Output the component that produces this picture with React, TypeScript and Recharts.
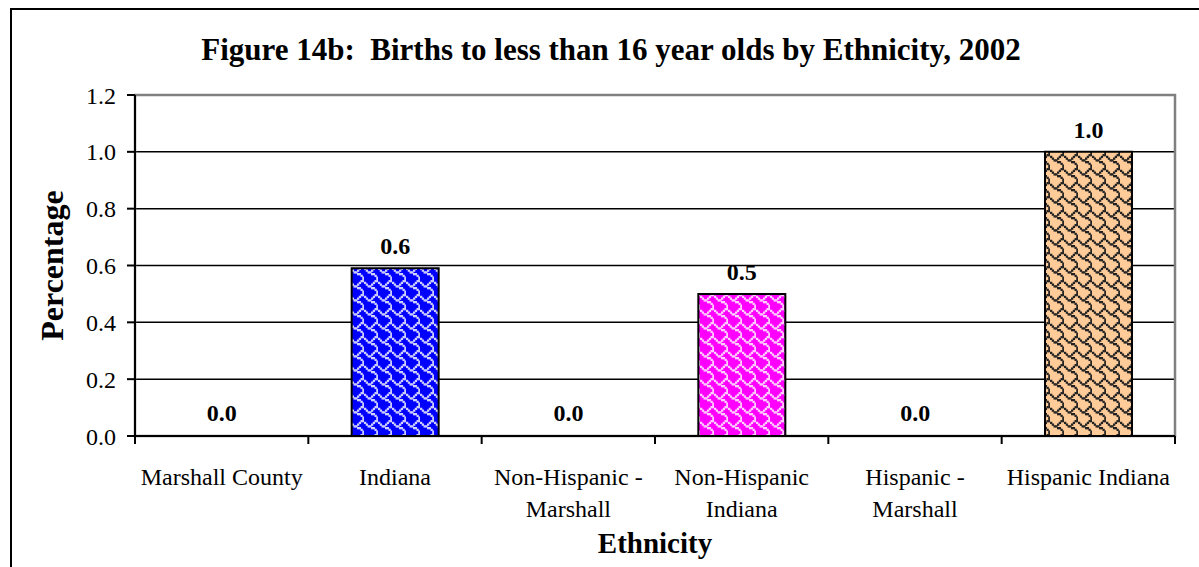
import { BarChart, Bar, XAxis, YAxis, CartesianGrid, Cell, LabelList, ReferenceArea } from "recharts";

const categories = [
  "Marshall County",
  "Indiana",
  "Non-Hispanic - Marshall",
  "Non-Hispanic Indiana",
  "Hispanic - Marshall",
  "Hispanic Indiana",
];
const tickLines = [
  ["Marshall County"],
  ["Indiana"],
  ["Non-Hispanic -", "Marshall"],
  ["Non-Hispanic", "Indiana"],
  ["Hispanic -", "Marshall"],
  ["Hispanic Indiana"],
];
const percentages = [0, 0.59, 0, 0.5, 0, 1.0];
const yTicks = [0, 0.2, 0.4, 0.6, 0.8, 1.0, 1.2];

const W = 1199;
const H = 567;
const M = { top: 95, right: 24, bottom: 0, left: 0 };
const Y_W = 135;
const X_H = 131;
const FONT = "'Liberation Serif', 'Times New Roman', serif";

// excel "shingle" fill, 8x8 bitmap
const shingle = ["00000011", "10000100", "01001000", "00110000", "00001100", "00000010", "00000001", "00000001"];
const fills = [
  { id: "p0", bg: "#ffffff", fg: "#ffffff" },
  { id: "p1", bg: "#0000ff", fg: "#d0d0ff" },
  { id: "p2", bg: "#ffffff", fg: "#ffffff" },
  { id: "p3", bg: "#ff00ff", fg: "#ffd0ff" },
  { id: "p4", bg: "#ffffff", fg: "#ffffff" },
  { id: "p5", bg: "#ffcc99", fg: "#222222" },
];
const PX = 1.75;
const DOT = 2.3;

const data = categories.map((c, i) => ({ name: c, value: percentages[i] }));

function Patterns() {
  return (
    <svg width={0} height={0} style={{ position: "absolute" }}>
      <defs>
        {fills.map((f) => (
          <pattern key={f.id} id={f.id} patternUnits="userSpaceOnUse" width={8 * PX} height={8 * PX}>
            <rect width={8 * PX} height={8 * PX} fill={f.bg} />
            {shingle.flatMap((row, r) =>
              row.split("").map((b, c) =>
                b === "1" ? <rect key={`${r}-${c}`} x={c * PX} y={r * PX} width={DOT} height={DOT} fill={f.fg} /> : null
              )
            )}
          </pattern>
        ))}
      </defs>
    </svg>
  );
}

function XTick(props: any) {
  const { x, y, index } = props;
  const band = (W - M.left - M.right - Y_W) / categories.length;
  const left = x - band / 2;
  const lines = tickLines[index] ?? [];
  return (
    <g>
      <line x1={left} x2={left} y1={y} y2={y + 8} stroke="#000" strokeWidth={2} />
      {index === categories.length - 1 && (
        <line x1={x + band / 2} x2={x + band / 2} y1={y} y2={y + 8} stroke="#000" strokeWidth={2} />
      )}
      {lines.map((l, i) => (
        <text key={i} x={x} y={y + 49 + i * 32} textAnchor="middle" fontSize={24} fontFamily={FONT} fill="#000">
          {l}
        </text>
      ))}
    </g>
  );
}

export default function App() {
  return (
    <div style={{ position: "fixed", left: 0, top: 0, width: W, height: H, overflow: "hidden", background: "#fff" }}>
      <Patterns />
      <div
        style={{
          position: "absolute", left: 10, top: 8, width: 1400, height: 800,
          border: "2.5px solid #000", boxSizing: "border-box",
        }}
      />
      <div
        style={{
          position: "absolute", left: 0, top: 35, width: 1222, textAlign: "center",
          fontFamily: FONT, fontWeight: "bold", fontSize: 31, lineHeight: "30px", whiteSpace: "pre",
        }}
      >
        {"Figure 14b:  Births to less than 16 year olds by Ethnicity, 2002"}
      </div>
      <div style={{ position: "absolute", left: 0, top: 0 }}>
        <BarChart width={W} height={H} data={data} margin={M} barCategoryGap="25%">
          <CartesianGrid vertical={false} stroke="#000" strokeWidth={1.5} />
          <ReferenceArea y1={0} y2={1.2} fill="none" stroke="#808080" strokeWidth={2.5} />
          <XAxis
            dataKey="name"
            height={X_H}
            interval={0}
            tickLine={false}
            tickSize={0}
            tickMargin={0}
            axisLine={{ stroke: "#000", strokeWidth: 2 }}
            tick={<XTick />}
            label={{
              content: (p: any) => {
                const vb = p.viewBox;
                return (
                  <text x={vb.x + vb.width / 2} y={vb.y + 117} textAnchor="middle" fontSize={29} fontWeight="bold" fontFamily={FONT} fill="#000">
                    Ethnicity
                  </text>
                );
              },
            }}
          />
          <YAxis
            width={Y_W}
            domain={[0, 1.2]}
            ticks={yTicks}
            tickFormatter={(v: number) => v.toFixed(1)}
            tickSize={8}
            tickMargin={11}
            tickLine={{ stroke: "#000", strokeWidth: 2 }}
            axisLine={{ stroke: "#000", strokeWidth: 2 }}
            tick={{ fontSize: 24, fontFamily: FONT, fill: "#000" }}
            label={{
              content: (p: any) => {
                const vb = p.viewBox;
                const cx = vb.x + 63;
                const cy = vb.y + vb.height / 2;
                return (
                  <text x={cx} y={cy} transform={`rotate(-90, ${cx}, ${cy})`} textAnchor="middle" fontSize={32} fontWeight="bold" fontFamily={FONT} fill="#000">
                    Percentage
                  </text>
                );
              },
            }}
          />
          <Bar dataKey="value" minPointSize={1} isAnimationActive={false}>
            {data.map((d, i) => {
              const empty = d.value === 0;
              return (
                <Cell
                  key={d.name}
                  fill={empty ? "none" : `url(#${fills[i].id})`}
                  stroke={empty ? "none" : "#000"}
                  strokeWidth={2}
                />
              );
            })}
            <LabelList
              dataKey="value"
              position="top"
              offset={14}
              formatter={(v: any) => Number(v).toFixed(1)}
              style={{ fontSize: 24, fontWeight: "bold", fontFamily: FONT, fill: "#000" }}
            />
          </Bar>
        </BarChart>
      </div>
    </div>
  );
}
